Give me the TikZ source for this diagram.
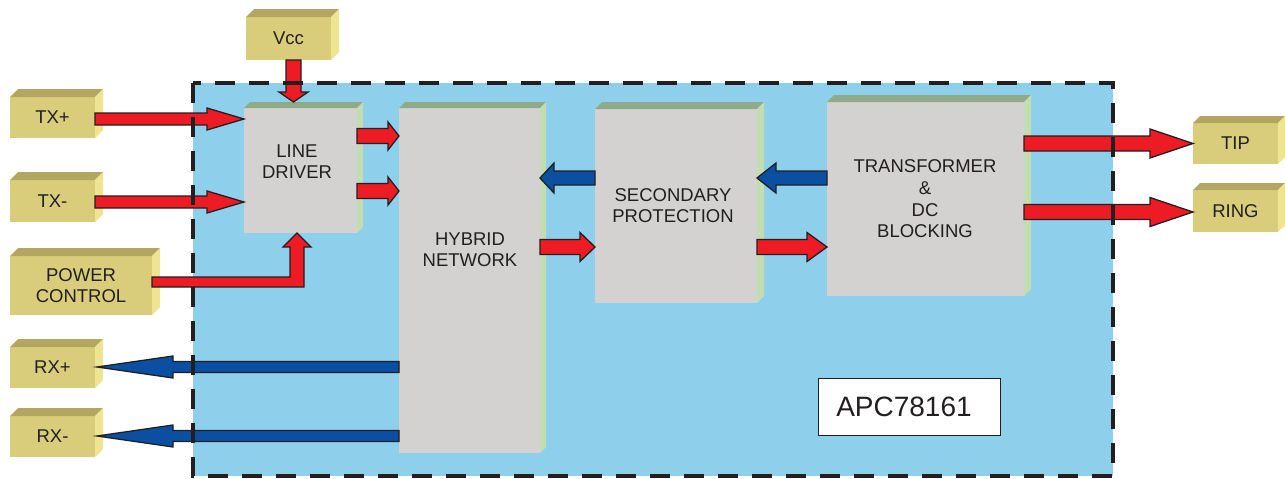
\documentclass[tikz,border=0pt]{standalone}
\usepackage{fontspec}
\setmainfont{Liberation Sans}
\usetikzlibrary{calc}
\definecolor{bgblue}{RGB}{142,207,236}
\definecolor{yfront}{RGB}{217,205,123}
\definecolor{ytop}{RGB}{178,166,96}
\definecolor{yside}{RGB}{238,228,145}
\definecolor{gfront}{RGB}{211,210,209}
\definecolor{gtop}{RGB}{143,170,136}
\definecolor{gside}{RGB}{195,221,178}
\definecolor{arrred}{RGB}{237,28,36}
\definecolor{arrblue}{RGB}{10,79,161}
\definecolor{txt}{RGB}{35,31,32}
\tikzset{
  front/.style={rectangle, inner sep=0pt, outer sep=0pt, draw=none},
  lbl/.style={text=txt, font=\fontsize{18.5}{21}\selectfont, align=center, inner sep=0pt},
  redarrow/.style={fill=arrred, draw=txt, line width=1.3pt, line join=miter},
  bluearrow/.style={fill=arrblue, draw=txt, line width=1.3pt, line join=miter},
  chipborder/.style={draw=txt, line width=4pt, dash pattern=on 20pt off 14pt},
}
% cube: name, x0, y0, x1, y1, depth, colour prefix
\newcommand\cube[7]{%
  \node[front, fill=#7front, minimum width={#4-#2}, minimum height={#5-#3}] (#1) at ({(#2+#4)/2},{-(#3+#5)/2}) {};
  \fill[#7top] (#1.north west) -- ++(#6,#6) -- ($(#1.north east)+(#6,#6)$) -- (#1.north east) -- cycle;
  \fill[#7side] (#1.north east) -- ++(#6,#6) -- ($(#1.south east)+(#6,#6)$) -- (#1.south east) -- cycle;
}
% block arrow: style, from, to, shaft half, head half, head length
\newcommand\barrow[6]{%
  \draw[#1] let \p1=#2, \p2=#3, \n1={atan2(\y2-\y1,\x2-\x1)}, \n2={veclen(\x2-\x1,\y2-\y1)-#6} in
    ($(\p1)+(\n1+90:#4pt)$) -- ($(\p1)+(\n1:\n2)+(\n1+90:#4pt)$) -- ($(\p1)+(\n1:\n2)+(\n1+90:#5pt)$)
    -- (\p2) -- ($(\p1)+(\n1:\n2)+(\n1-90:#5pt)$) -- ($(\p1)+(\n1:\n2)+(\n1-90:#4pt)$)
    -- ($(\p1)+(\n1-90:#4pt)$) -- cycle;
}
\begin{document}
\begin{tikzpicture}[x=1pt,y=1pt]
\useasboundingbox (0,0) rectangle (1285,-479);
% chip background
\node[front, fill=bgblue, minimum width=920, minimum height=393] (chip) at (653,-279.5) {};
% external boxes
\cube{vcc}{246}{17}{331}{60}{8}{y}
\cube{txp}{10}{97}{95}{138}{8}{y}
\cube{txm}{10}{180}{95}{222}{8}{y}
\cube{pc}{10}{256}{152}{315}{8}{y}
\cube{rxp}{10}{347}{95}{388}{8}{y}
\cube{rxm}{10}{416}{95}{457}{8}{y}
\cube{tip}{1193}{123}{1278}{164}{7}{y}
\cube{ring}{1193}{190}{1278}{232}{7}{y}
\node[lbl] at (vcc) {Vcc};
\node[lbl] at (txp) {TX+};
\node[lbl] at (txm) {TX-};
\node[lbl] at (pc) {POWER\\CONTROL};
\node[lbl] at (rxp) {RX+};
\node[lbl] at (rxm) {RX-};
\node[lbl] at (tip) {TIP};
\node[lbl] at (ring) {RING};
% internal blocks
\cube{ld}{244}{108}{357}{233}{6}{g}
\cube{hyb}{399}{108}{540}{453}{6}{g}
\cube{sec}{595}{109}{757}{303}{7}{g}
\cube{trf}{827}{102}{1024}{296}{7}{g}
\node[lbl] (ldl) at (297,-162) {LINE\\DRIVER};
\node[lbl] (hybl) at (470,-250) {HYBRID\\NETWORK};
\node[lbl] (secl) at (673,-206) {SECONDARY\\PROTECTION};
\node[lbl, font=\fontsize{18.5}{21.7}\selectfont] (trfl) at (925,-199) {TRANSFORMER\\\&\\DC\\BLOCKING};
% part number
\node[draw=txt, line width=1pt, fill=white, minimum width=182, minimum height=57, inner sep=0pt] (apc) at (909,-406.5) {};
\node[text=txt, font=\fontsize{28}{30}\selectfont, inner sep=0pt] at ($(apc)+(-5,0)$) {APC78161};
% arrows
\coordinate (vccA) at ($(vcc.south)+(5,0)$);
\coordinate (vccB) at ($(vccA |- ld.north)+(0,6)$);
\barrow{redarrow}{(vccA)}{(vccB)}{7.5}{14.5}{10}
\coordinate (txpA) at ($(txp.east)+(0,-1.5)$);
\barrow{redarrow}{(txpA)}{(ld.west |- txpA)}{6}{11}{37}
\coordinate (txmA) at ($(txm.east)+(0,-1)$);
\barrow{redarrow}{(txmA)}{(ld.west |- txmA)}{6}{11}{37}
\barrow{redarrow}{(ld.east |- 0,-136)}{(hyb.west |- 0,-136)}{7.5}{14}{11}
\barrow{redarrow}{(ld.east |- 0,-191)}{(hyb.west |- 0,-191)}{7.5}{14}{11}
\barrow{bluearrow}{(sec.west |- 0,-178)}{(hyb.east |- 0,-178)}{7}{15}{14}
\barrow{redarrow}{(hyb.east |- 0,-247)}{(sec.west |- 0,-247)}{7.5}{14.5}{15}
\barrow{bluearrow}{(trf.west |- 0,-178)}{(sec.east |- 0,-178)}{7}{15}{19}
\barrow{redarrow}{(sec.east |- 0,-247)}{(trf.west |- 0,-247)}{7.5}{14.5}{20}
\barrow{redarrow}{(trf.east |- 0,-143.5)}{(tip.west |- 0,-143.5)}{7.5}{14.5}{43}
\barrow{redarrow}{(trf.east |- 0,-212)}{(ring.west |- 0,-212)}{7.5}{14.5}{43}
\barrow{bluearrow}{(hyb.west |- 0,-367)}{($(rxp.east |- 0,-367)+(2,0)$)}{5.5}{11}{76}
\barrow{bluearrow}{(hyb.west |- 0,-436)}{($(rxm.east |- 0,-436)+(2,0)$)}{5.5}{11}{76}
% power control elbow arrow
\coordinate (pwT) at ($(ld.south)+(-3.5,0)$);
\draw[redarrow] (pc.east |- 0,-287) -- ++(0,10) -- ($(pwT |- 0,-277)+(-7,0)$) -- ($(pwT)+(-7,-14)$)
  -- ++(-7,0) -- (pwT) -- ++(14,-14) -- ++(-7,0) -- ($(pwT |- 0,-287)+(7,0)$) -- cycle;
% chip dashed border
\draw[chipborder] (chip.north west) rectangle (chip.south east);
\end{tikzpicture}
\end{document}
